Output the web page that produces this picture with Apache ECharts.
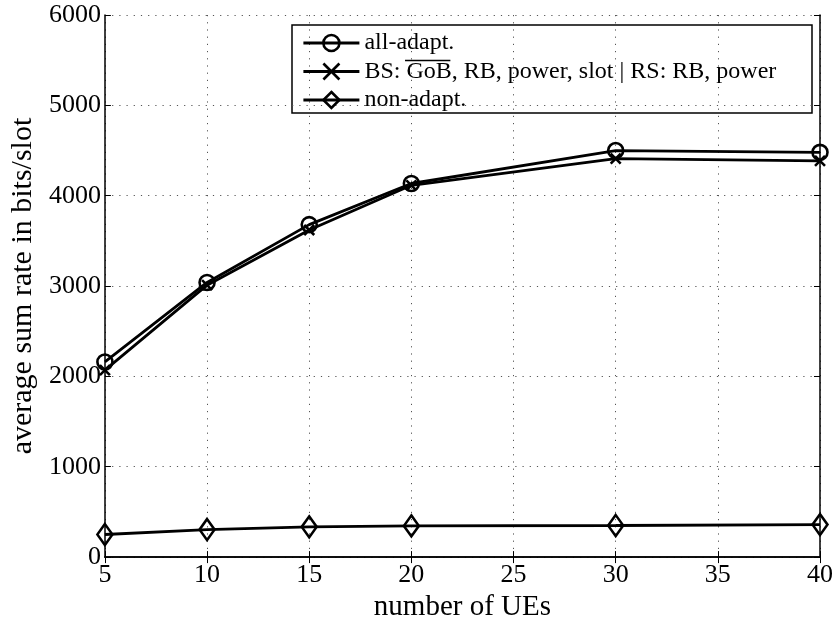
<!DOCTYPE html>
<html>
<head>
<meta charset="utf-8">
<script src="https://cdn.jsdelivr.net/npm/echarts@6/dist/echarts.min.js"></script>
<style>
  html, body { margin: 0; padding: 0; background: #fff; }
  #chart { width: 836px; height: 627px; }
</style>
</head>
<body>
<div id="chart"></div>
<script>
// Number of UEs on the x axis
const numUEs = [5, 10, 15, 20, 30, 40];
// Average sum rate (bits/slot) for each scheme
const allAdapt = [2160, 3040, 3680, 4135, 4500, 4480];
const partialAdapt = [2070, 3010, 3620, 4115, 4410, 4385];
const nonAdapt = [250, 305, 335, 345, 350, 360];

const seriesNames = [
  'all-adapt.',
  'BS: GoB, RB, power, slot | RS: RB, power',
  'non-adapt.'
];

const FONT = '"Liberation Serif", "Times New Roman", serif';
const LEGEND_FONT_SIZE = 24;

function pairs(values) {
  return numUEs.map((x, i) => [x, values[i]]);
}

const chart = echarts.init(document.getElementById('chart'), null, { renderer: 'canvas' });

// Legend geometry
const legendBox = { x: 292, y: 25, w: 520, h: 88 };
const legendLeft = 302;
const legendTop = 31;
const legendItemWidth = 56;
const legendRowH = 24;
const legendRowGap = 28.5;

// Width of "BS: " and "GoB" to place the bar over GoB
const ctx = document.createElement('canvas').getContext('2d');
ctx.font = LEGEND_FONT_SIZE + 'px ' + FONT;
const preW = ctx.measureText('BS: ').width;
const gobW = ctx.measureText('GoB').width;
const textX0 = legendLeft + legendItemWidth + 5;
const row2Center = legendTop + legendRowH / 2 + legendRowGap;

const baseLine = { color: '#000', width: 2.8 };
const markerStyle = { color: 'rgba(0,0,0,0)', borderColor: '#000', borderWidth: 2.6 };

const option = {
  animation: false,
  backgroundColor: '#fff',
  textStyle: { fontFamily: FONT, color: '#000' },
  grid: { left: 101, right: 15, top: 15, bottom: 65, containLabel: false },
  xAxis: [
    {
      type: 'value', min: 5, max: 40, interval: 5,
      name: 'number of UEs', nameLocation: 'middle', nameGap: 31,
      nameTextStyle: { fontFamily: FONT, fontSize: 29, color: '#000' },
      axisLine: { lineStyle: { color: '#000', width: 1.5 } },
      axisTick: { inside: true, length: 6, lineStyle: { color: '#000', width: 1 } },
      axisLabel: { fontFamily: FONT, fontSize: 26, color: '#000', margin: 5 },
      splitLine: { show: true, lineStyle: { color: '#555', width: 1, type: [1.2, 6] } }
    },
    {
      type: 'value', min: 5, max: 40, interval: 5, position: 'top',
      axisLine: { show: true, lineStyle: { color: '#000', width: 1.5 } },
      axisTick: { show: true, inside: true, length: 6, lineStyle: { color: '#000', width: 1 } },
      axisLabel: { show: false },
      splitLine: { show: false }
    }
  ],
  yAxis: [
    {
      type: 'value', min: 0, max: 6000, interval: 1000,
      name: 'average sum rate in bits/slot', nameLocation: 'middle', nameGap: 64,
      nameTextStyle: { fontFamily: FONT, fontSize: 30, color: '#000' },
      axisLine: { show: true, lineStyle: { color: '#000', width: 1.5 } },
      axisTick: { show: true, inside: true, length: 6, lineStyle: { color: '#000', width: 1 } },
      axisLabel: {
        fontFamily: FONT, fontSize: 26, color: '#000', margin: 4,
        formatter: (v) => String(v)
      },
      splitLine: { show: true, lineStyle: { color: '#555', width: 1, type: [1.2, 6] } }
    },
    {
      type: 'value', min: 0, max: 6000, interval: 1000, position: 'right',
      axisLine: { show: true, lineStyle: { color: '#000', width: 1.5 } },
      axisTick: { show: true, inside: true, length: 6, lineStyle: { color: '#000', width: 1 } },
      axisLabel: { show: false },
      splitLine: { show: false }
    }
  ],
  legend: {
    orient: 'vertical',
    left: legendLeft, top: legendTop,
    padding: 0,
    itemWidth: legendItemWidth, itemHeight: 20,
    itemGap: legendRowGap - legendRowH,
    selectedMode: false,
    lineStyle: { width: 2.8, color: '#000' },
    itemStyle: { borderWidth: 2.6, borderColor: '#000' },
    textStyle: { fontFamily: FONT, fontSize: LEGEND_FONT_SIZE, color: '#000', lineHeight: legendRowH },
    data: seriesNames
  },
  graphic: [
    {
      type: 'rect', z: 0, silent: true,
      shape: { x: legendBox.x, y: legendBox.y, width: legendBox.w, height: legendBox.h },
      style: { fill: '#fff', stroke: '#000', lineWidth: 1.5 }
    },
    {
      type: 'line', z: 10, silent: true,
      shape: { x1: textX0 + preW, y1: row2Center - 11, x2: textX0 + preW + gobW, y2: row2Center - 11 },
      style: { stroke: '#000', lineWidth: 1.3 }
    }
  ],
  series: [
    {
      name: seriesNames[0], type: 'line', data: pairs(allAdapt),
      symbol: 'circle', symbolSize: 15,
      itemStyle: markerStyle,
      lineStyle: baseLine, emphasis: { disabled: true }, z: 3
    },
    {
      name: seriesNames[1], type: 'line', data: pairs(partialAdapt),
      symbol: 'path://M0,0L10,10M0,10L10,0', symbolSize: 10,
      itemStyle: markerStyle,
      lineStyle: baseLine, emphasis: { disabled: true }, z: 3
    },
    {
      name: seriesNames[2], type: 'line', data: pairs(nonAdapt),
      symbol: 'diamond', symbolSize: [15, 21],
      itemStyle: markerStyle,
      lineStyle: baseLine, emphasis: { disabled: true }, z: 3
    }
  ]
};

chart.setOption(option);
</script>
</body>
</html>
